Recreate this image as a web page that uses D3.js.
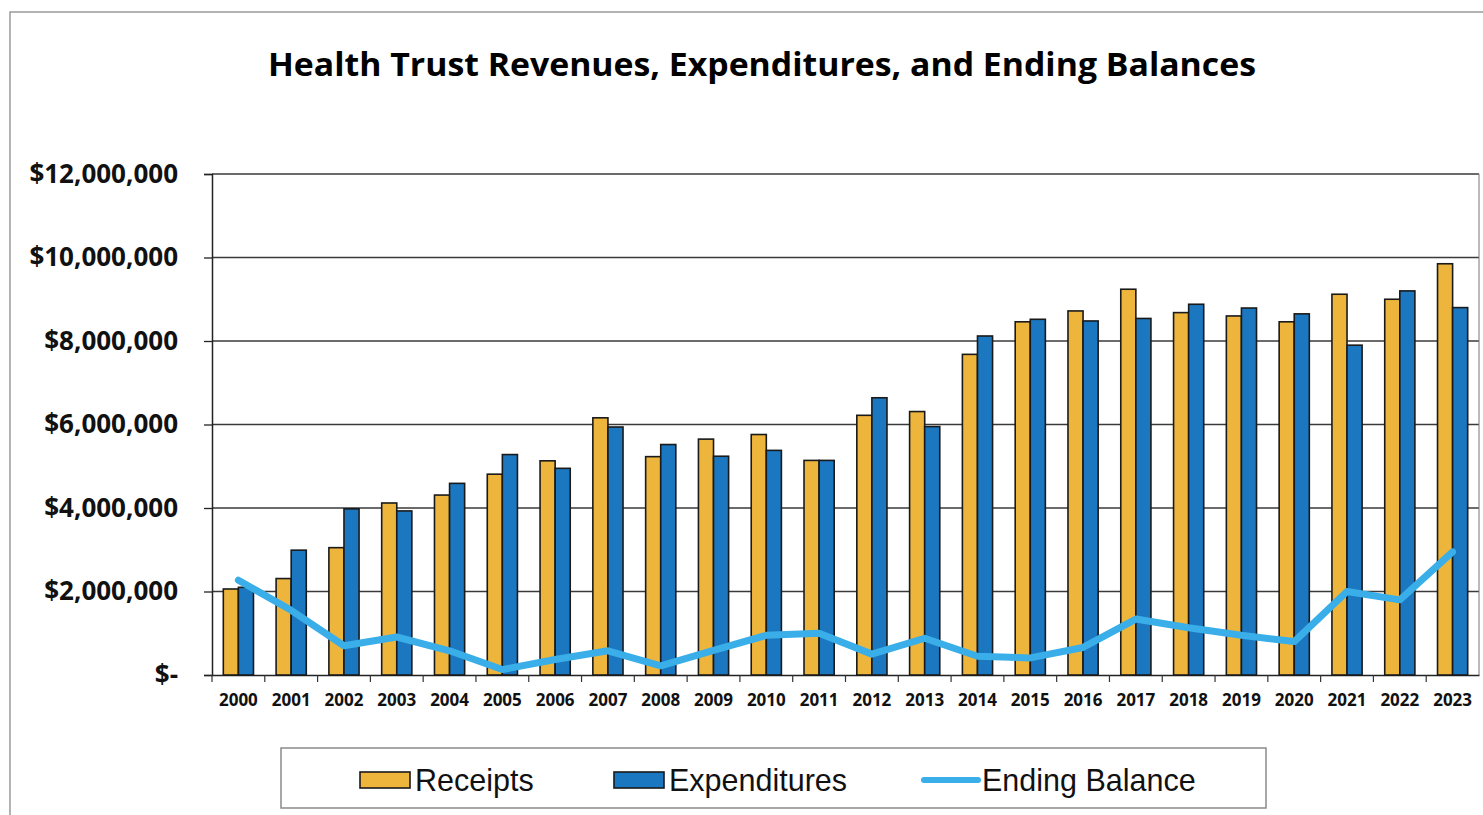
<!DOCTYPE html>
<html>
<head>
<meta charset="utf-8">
<script src="https://cdn.jsdelivr.net/npm/d3@7"></script>
<style>
  body { margin: 0; background: #fff; }
  svg { display: block; }
</style>
</head>
<body>
<div id="chart"></div>
<script>
// Data
const years = ['2000','2001','2002','2003','2004','2005','2006','2007','2008','2009','2010','2011',
               '2012','2013','2014','2015','2016','2017','2018','2019','2020','2021','2022','2023'];
const receipts = [2060000, 2310000, 3050000, 4120000, 4310000, 4810000, 5130000, 6160000, 5230000, 5650000, 5760000, 5140000,
                  6220000, 6310000, 7680000, 8460000, 8720000, 9240000, 8680000, 8600000, 8460000, 9120000, 9000000, 9850000];
const expenditures = [2100000, 2990000, 3980000, 3930000, 4590000, 5280000, 4950000, 5940000, 5520000, 5240000, 5380000, 5140000,
                      6640000, 5950000, 8120000, 8520000, 8480000, 8540000, 8880000, 8790000, 8650000, 7900000, 9200000, 8800000];
const endingBalance = [2270000, 1550000, 700000, 910000, 580000, 130000, 370000, 580000, 220000, 590000, 950000, 1000000,
                       500000, 880000, 450000, 410000, 660000, 1340000, 1130000, 950000, 800000, 2000000, 1800000, 2950000];
const yTicks = [0, 2000000, 4000000, 6000000, 8000000, 10000000, 12000000];
const seriesNames = ['Receipts', 'Expenditures', 'Ending Balance'];

const width = 1483;
const height = 815;
const plot = { left: 212, right: 1479, top: 174, bottom: 675 };
const colors = { Receipts: '#EDB53C', Expenditures: '#1B77C0', 'Ending Balance': '#3AAEE8' };

const svg = d3.select('#chart')
    .append('svg')
    .attr('width', width)
    .attr('height', height);

// Outer chart frame
svg.append('rect')
    .attr('x', 10).attr('y', 12)
    .attr('width', width).attr('height', height)
    .attr('fill', 'none')
    .attr('stroke', '#9a9a9a')
    .attr('stroke-width', 1.5);

// Title
svg.append('text')
    .attr('x', 762)
    .attr('y', 76)
    .attr('text-anchor', 'middle')
    .style('font-family', 'Open Sans, sans-serif')
    .style('font-weight', 'bold')
    .style('font-size', '32px')
    .attr('textLength', 988)
    .attr('lengthAdjust', 'spacingAndGlyphs')
    .text('Health Trust Revenues, Expenditures, and Ending Balances');

// Scales
const xScale = d3.scaleBand()
    .domain(years)
    .range([plot.left, plot.right])
    .padding(0);

const xSub = d3.scaleBand()
    .domain(['Receipts', 'Expenditures'])
    .range([0, xScale.bandwidth()])
    .paddingInner(0)
    .paddingOuter(0.75);

const yScale = d3.scaleLinear()
    .domain([0, 12000000])
    .range([plot.bottom, plot.top]);

// Gridlines
svg.append('g')
    .selectAll('line')
    .data(yTicks.slice(1))
    .enter()
    .append('line')
    .attr('x1', plot.left)
    .attr('x2', plot.right)
    .attr('y1', d => yScale(d))
    .attr('y2', d => yScale(d))
    .attr('stroke', '#3a3a3a')
    .attr('stroke-width', 1.3);

// Right border of plot area
svg.append('line')
    .attr('x1', plot.right).attr('x2', plot.right)
    .attr('y1', plot.top).attr('y2', plot.bottom)
    .attr('stroke', '#777')
    .attr('stroke-width', 1);

// Y axis
const yAxis = d3.axisLeft(yScale)
    .tickValues(yTicks)
    .tickSize(8)
    .tickPadding(26)
    .tickFormat(d => d === 0 ? '$-' : d3.format('$,')(d));

svg.append('g')
    .attr('transform', `translate(${plot.left}, 0)`)
    .call(yAxis)
    .call(g => g.select('.domain').attr('stroke', '#222').attr('stroke-width', 1.5))
    .call(g => g.selectAll('.tick line').attr('stroke', '#222').attr('stroke-width', 1.3))
    .call(g => g.selectAll('text')
        .style('font-family', 'Open Sans, sans-serif')
        .style('font-weight', 'bold')
        .style('font-size', '26px')
        .attr('fill', '#111'));

// X axis
const xAxis = d3.axisBottom(xScale)
    .tickSize(0)
    .tickPadding(19);

svg.append('g')
    .attr('transform', `translate(0, ${plot.bottom})`)
    .call(xAxis)
    .call(g => g.select('.domain').attr('stroke', '#222').attr('stroke-width', 1.5))
    .call(g => g.selectAll('text')
        .style('font-family', 'Open Sans, sans-serif')
        .style('font-weight', 'bold')
        .style('font-size', '17px')
        .attr('fill', '#111'));

// Tick marks between categories
svg.append('g')
    .selectAll('line')
    .data(years)
    .enter()
    .append('line')
    .attr('x1', d => xScale(d))
    .attr('x2', d => xScale(d))
    .attr('y1', plot.bottom)
    .attr('y2', plot.bottom + 7)
    .attr('stroke', '#333')
    .attr('stroke-width', 1.2);

// Bars
const barData = years.map((y, i) => ({ year: y, Receipts: receipts[i], Expenditures: expenditures[i] }));

const groups = svg.append('g')
    .selectAll('g')
    .data(barData)
    .enter()
    .append('g')
    .attr('transform', d => `translate(${xScale(d.year)}, 0)`);

groups.selectAll('rect')
    .data(d => ['Receipts', 'Expenditures'].map(k => ({ key: k, value: d[k] })))
    .enter()
    .append('rect')
    .attr('x', d => xSub(d.key))
    .attr('y', d => yScale(d.value))
    .attr('width', xSub.bandwidth())
    .attr('height', d => plot.bottom - yScale(d.value))
    .attr('fill', d => colors[d.key])
    .attr('stroke', '#1a1a1a')
    .attr('stroke-width', 1.6);

// Ending balance line
const line = d3.line()
    .x((d, i) => xScale(years[i]) + xScale.bandwidth() / 2)
    .y(d => yScale(d));

svg.append('path')
    .datum(endingBalance)
    .attr('d', line)
    .attr('fill', 'none')
    .attr('stroke', colors['Ending Balance'])
    .attr('stroke-width', 7)
    .attr('stroke-linejoin', 'round')
    .attr('stroke-linecap', 'round');

// Legend
const legend = svg.append('g');

legend.append('rect')
    .attr('x', 281).attr('y', 748)
    .attr('width', 985).attr('height', 60)
    .attr('fill', '#fff')
    .attr('stroke', '#8a8a8a')
    .attr('stroke-width', 1.5);

const legendX = [360, 614, 922];

seriesNames.forEach((name, i) => {
    const g = legend.append('g').attr('transform', `translate(${legendX[i]}, 780)`);
    if (name === 'Ending Balance') {
        g.append('line')
            .attr('x1', 2).attr('x2', 56)
            .attr('y1', 0).attr('y2', 0)
            .attr('stroke', colors[name])
            .attr('stroke-width', 6)
            .attr('stroke-linecap', 'round');
    } else {
        g.append('rect')
            .attr('x', 0).attr('y', -8)
            .attr('width', 50).attr('height', 16)
            .attr('fill', colors[name])
            .attr('stroke', '#1a1a1a')
            .attr('stroke-width', 1.6);
    }
    g.append('text')
        .attr('x', name === 'Ending Balance' ? 60 : 55)
        .attr('y', 0)
        .attr('dy', '0.35em')
        .style('font-family', 'Liberation Sans, Arial, sans-serif')
        .style('font-size', '30.5px')
        .attr('fill', '#111')
        .text(name);
});
</script>
</body>
</html>
